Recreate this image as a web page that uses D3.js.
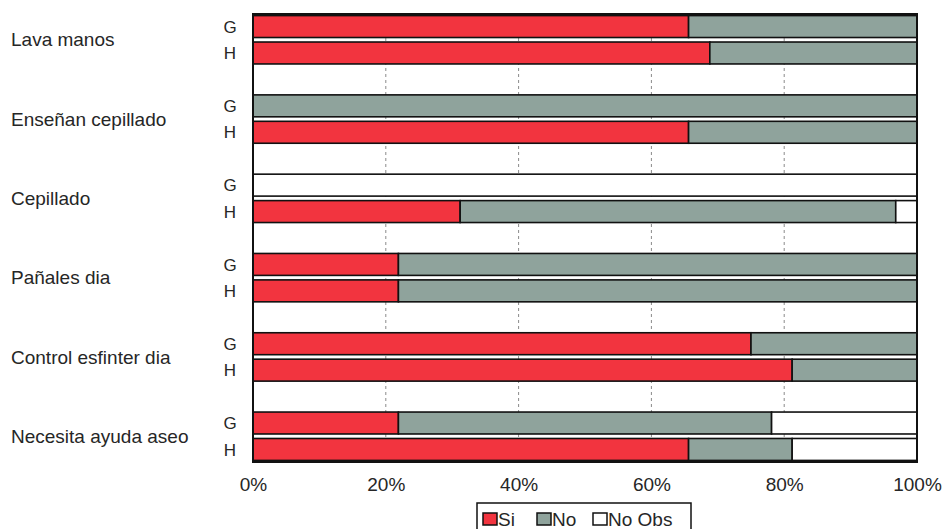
<!DOCTYPE html>
<html>
<head>
<meta charset="utf-8">
<script src="https://cdn.jsdelivr.net/npm/d3@7"></script>
<style>
  body { margin: 0; background: #fff; overflow: hidden; }
  svg text { font-family: "Liberation Sans", Arial, sans-serif; fill: #262626; }
</style>
</head>
<body>
<svg id="chart" width="944" height="529"></svg>
<script>
/* ── Data (out of 32 observations, shown as %) ─────────── */
const categories = ['Lava manos', 'Enseñan cepillado', 'Cepillado', 'Pañales dia',
                    'Control esfinter dia', 'Necesita ayuda aseo'];
const groups     = ['G', 'H'];
const seriesNames = ['Si', 'No', 'No Obs'];
// one entry per category: [G, H]
const siVals    = [[65.6, 68.8], [0, 65.6], [0, 31.2], [21.9, 21.9], [75, 81.2], [21.9, 65.6]];
const noVals    = [[34.4, 31.2], [100, 34.4], [0, 65.6], [78.1, 78.1], [25, 18.8], [56.2, 15.6]];
const noObsVals = [[0, 0], [0, 0], [100, 3.2], [0, 0], [0, 0], [21.9, 18.8]];
const xTicks    = [0, 20, 40, 60, 80, 100];

const colors = { 'Si': '#f2343f', 'No': '#8fa39c', 'No Obs': '#ffffff' };

/* ── Layout ────────────────────────────────────────────── */
const svg = d3.select('#chart');
const plotL = 253, plotR = 917, plotT = 14, plotB = 462;

// rows: G, H, spacer per category (last spacer dropped)
const rows = [];
categories.forEach((c, i) => {
  groups.forEach(g => rows.push(c + '|' + g));
  if (i < categories.length - 1) rows.push(c + '|gap');
});

const x = d3.scaleLinear().domain([0, 100]).range([plotL, plotR]);
const y = d3.scaleBand().domain(rows).range([plotT, plotB]).paddingInner(0.17).paddingOuter(0.06);

/* ── Gridlines ─────────────────────────────────────────── */
svg.append('g').selectAll('line')
  .data(xTicks.filter(t => t > 0 && t < 100)).join('line')
  .attr('x1', d => x(d)).attr('x2', d => x(d))
  .attr('y1', plotT).attr('y2', plotB)
  .attr('stroke', '#8a8a8a').attr('stroke-width', 1)
  .attr('stroke-dasharray', '3,3');

/* ── Bars ──────────────────────────────────────────────── */
const barData = [];
categories.forEach((c, i) => {
  groups.forEach((g, j) => {
    const vals = [siVals[i][j], noVals[i][j], noObsVals[i][j]];
    let acc = 0;
    vals.forEach((v, k) => {
      if (v > 0) barData.push({ row: c + '|' + g, x0: acc, x1: acc + v, s: seriesNames[k] });
      acc += v;
    });
  });
});

svg.append('g').selectAll('rect')
  .data(barData).join('rect')
  .attr('x', d => x(d.x0))
  .attr('width', d => x(d.x1) - x(d.x0))
  .attr('y', d => y(d.row))
  .attr('height', y.bandwidth())
  .attr('fill', d => colors[d.s])
  .attr('stroke', '#111')
  .attr('stroke-width', 1.6);

/* ── Plot frame ────────────────────────────────────────── */
svg.append('rect')
  .attr('x', plotL).attr('y', plotT)
  .attr('width', plotR - plotL).attr('height', plotB - plotT)
  .attr('fill', 'none').attr('stroke', '#111').attr('stroke-width', 2);

/* ── Labels ────────────────────────────────────────────── */
categories.forEach(c => {
  const yc = (y(c + '|G') + y(c + '|H') + y.bandwidth()) / 2;
  svg.append('text')
    .attr('x', 11).attr('y', yc).attr('dy', '0.35em')
    .style('font-size', '19px')
    .text(c);
  groups.forEach(g => {
    svg.append('text')
      .attr('x', 230).attr('y', y(c + '|' + g) + y.bandwidth() / 2).attr('dy', '0.36em')
      .attr('text-anchor', 'middle')
      .style('font-size', '17px')
      .text(g);
  });
});

/* ── X axis ────────────────────────────────────────────── */
const xAxis = d3.axisBottom(x).tickValues(xTicks).tickSize(0).tickPadding(0)
  .tickFormat(d => d + '%');
const ax = svg.append('g').attr('transform', `translate(0,${plotB + 15})`).call(xAxis);
ax.select('.domain').remove();
ax.selectAll('text').style('font-size', '19px').attr('fill', '#262626');

/* ── Legend ────────────────────────────────────────────── */
const lg = svg.append('g').attr('transform', 'translate(477,503)');
lg.append('rect').attr('width', 214).attr('height', 32)
  .attr('fill', '#fff').attr('stroke', '#111').attr('stroke-width', 1.5);
const lx = [6, 60, 116];
seriesNames.forEach((s, i) => {
  lg.append('rect').attr('x', lx[i]).attr('y', 10).attr('width', 14).attr('height', 12)
    .attr('fill', colors[s]).attr('stroke', '#111').attr('stroke-width', 1.5);
  lg.append('text').attr('x', lx[i] + 15).attr('y', 23)
    .style('font-size', '19px').text(s);
});
</script>
</body>
</html>
